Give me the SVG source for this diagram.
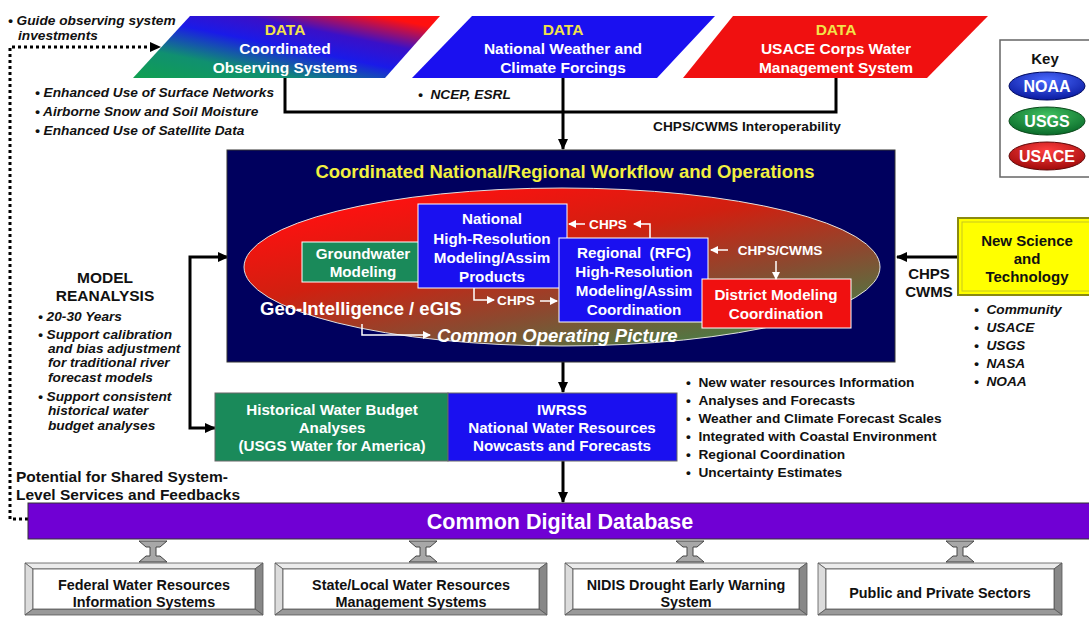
<svg xmlns="http://www.w3.org/2000/svg" width="1089" height="618" viewBox="0 0 1089 618">
<defs>
<style>
text{font-family:"Liberation Sans",Arial,sans-serif;font-weight:bold}
.data{fill:#f2e24a;font-size:15.5px;text-anchor:middle}
.wt{fill:#fff;font-size:15.5px;text-anchor:middle}
.wm{fill:#fff;font-size:15.2px;text-anchor:middle}
.blk{fill:#111;font-size:13.7px}
.it{font-style:italic}
.bx{fill:#111;font-size:14.4px;text-anchor:middle}
.ch{fill:#fff;font-size:13.6px;text-anchor:middle}
.conn{fill:none;stroke:#000;stroke-width:3}
.wconn{fill:none;stroke:#fff;stroke-width:1.5}
.box{stroke:#fff;stroke-width:1}
.bev{stroke:#555;stroke-width:0.8}
</style>
<marker id="ah" markerUnits="userSpaceOnUse" markerWidth="11" markerHeight="10" refX="10" refY="5" orient="auto"><path d="M0,0 L11,5 L0,10 z" fill="#000"/></marker>
<marker id="wh" markerUnits="userSpaceOnUse" markerWidth="8" markerHeight="8" refX="7" refY="4" orient="auto"><path d="M0,0 L8,4 L0,8 z" fill="#fff"/></marker>
<linearGradient id="g1" x1="0" y1="1" x2="1" y2="0"><stop offset="0" stop-color="#10a050"/><stop offset="0.25" stop-color="#109070"/><stop offset="0.5" stop-color="#1a1ae8"/><stop offset="0.68" stop-color="#3a10c8"/><stop offset="0.9" stop-color="#ff1010"/></linearGradient>
<linearGradient id="eg" x1="0.15" y1="0.1" x2="0.85" y2="1"><stop offset="0" stop-color="#ff1010"/><stop offset="0.35" stop-color="#d02010"/><stop offset="0.65" stop-color="#8a4a30"/><stop offset="1" stop-color="#3a8a4a"/></linearGradient>
<radialGradient id="kb" cx="0.5" cy="0.3" r="0.7"><stop offset="0" stop-color="#4a6aff"/><stop offset="1" stop-color="#0a1aa0"/></radialGradient>
<radialGradient id="kg" cx="0.5" cy="0.3" r="0.7"><stop offset="0" stop-color="#40c060"/><stop offset="1" stop-color="#0a6a2a"/></radialGradient>
<radialGradient id="kr" cx="0.5" cy="0.3" r="0.7"><stop offset="0" stop-color="#ff4040"/><stop offset="1" stop-color="#a00a0a"/></radialGradient>
</defs>
<rect width="1089" height="618" fill="#fff"/>

<g id="connectors">
<path class="conn" d="M285 78 V112 H836 V78"/>
<path class="conn" d="M563 78 V149" marker-end="url(#ah)"/>
<path class="conn" d="M563 362 V392" marker-end="url(#ah)"/>
<path class="conn" d="M563 461 V502" marker-end="url(#ah)"/>
<path class="conn" d="M958 257 H897" marker-end="url(#ah)"/>
<path class="conn" d="M190 340 V257 H228" marker-end="url(#ah)"/>
<path class="conn" d="M190 340 V428 H215" marker-end="url(#ah)"/>
<path fill="none" stroke="#000" stroke-width="3" stroke-dasharray="3 3" d="M28 519 H10 V47 H152"/>
<path d="M150 42 L161 47 L150 52 z" fill="#000"/>
</g>

<g id="data-observing">
<polygon points="190,16 440,16 385,78 133,78" fill="url(#g1)"/>
<text class="data" x="285" y="35">DATA</text>
<text class="wt" x="285" y="54">Coordinated</text>
<text class="wt" x="285" y="73">Observing Systems</text>
</g>
<g id="data-weather">
<polygon points="472,16 715,16 657,78 412,78" fill="#1a10f0"/>
<text class="data" x="563" y="35">DATA</text>
<text class="wt" x="563" y="54">National Weather and</text>
<text class="wt" x="563" y="73">Climate Forcings</text>
</g>
<g id="data-usace">
<polygon points="733,16 988,16 927,78 683,78" fill="#f01010"/>
<text class="data" x="836" y="35">DATA</text>
<text class="wt" x="836" y="54">USACE Corps Water</text>
<text class="wt" x="836" y="73">Management System</text>
</g>

<g id="notes-top">
<text class="blk it" x="8" y="25">• Guide observing system</text>
<text class="blk it" x="18" y="40">investments</text>
<text class="blk it" x="35" y="97">• Enhanced Use of Surface Networks</text>
<text class="blk it" x="35" y="116">• Airborne Snow and Soil Moisture</text>
<text class="blk it" x="35" y="135">• Enhanced Use of Satellite Data</text>
<text class="blk it" x="418" y="99">•&#160;&#160;NCEP, ESRL</text>
<text class="blk" x="653" y="131">CHPS/CWMS Interoperability</text>
</g>

<g id="key">
<rect x="1000" y="40" width="95" height="137" fill="#fff" stroke="#666" stroke-width="1.5"/>
<text x="1045" y="64" font-size="15" fill="#111" text-anchor="middle">Key</text>
<ellipse cx="1047" cy="86" rx="38" ry="14" fill="url(#kb)" stroke="#000a60"/>
<text x="1047" y="92" font-size="16" fill="#fff" text-anchor="middle">NOAA</text>
<ellipse cx="1047" cy="121" rx="38" ry="14" fill="url(#kg)" stroke="#0a4a1a"/>
<text x="1047" y="127" font-size="16" fill="#fff" text-anchor="middle">USGS</text>
<ellipse cx="1047" cy="156" rx="38" ry="14" fill="url(#kr)" stroke="#600a0a"/>
<text x="1047" y="162" font-size="16" fill="#fff" text-anchor="middle">USACE</text>
</g>

<g id="workflow">
<rect x="227" y="150" width="668" height="212" fill="#00005e" stroke="#333" stroke-width="1"/>
<text x="565" y="178" font-size="18.5" fill="#f2f040" text-anchor="middle">Coordinated National/Regional Workflow and Operations</text>
<ellipse cx="562" cy="267" rx="318" ry="79" fill="url(#eg)" stroke="#e0e0e0" stroke-width="1"/>
</g>

<g id="groundwater">
<rect class="box" x="302" y="242" width="122" height="40" fill="#1a8a5a"/>
<text class="wm" x="363" y="259">Groundwater</text>
<text class="wm" x="363" y="277">Modeling</text>
</g>
<g id="national-hr">
<rect class="box" x="418" y="204" width="149" height="84" fill="#1a10f0"/>
<text class="wm" x="492" y="224">National</text>
<text class="wm" x="492" y="244">High-Resolution</text>
<text class="wm" x="492" y="263">Modeling/Assim</text>
<text class="wm" x="492" y="282">Products</text>
</g>
<g id="regional-rfc">
<rect class="box" x="559" y="238" width="149" height="84" fill="#1a10f0"/>
<text class="wm" x="634" y="258">Regional&#160; (RFC)</text>
<text class="wm" x="634" y="277">High-Resolution</text>
<text class="wm" x="634" y="296">Modeling/Assim</text>
<text class="wm" x="634" y="315">Coordination</text>
</g>
<g id="district">
<rect class="box" x="702" y="279" width="149" height="49" fill="#f01010"/>
<text class="wm" x="776" y="300">District Modeling</text>
<text class="wm" x="776" y="319">Coordination</text>
</g>

<g id="inner-connectors">
<path class="wconn" d="M650 238 V224 H634" marker-end="url(#wh)"/>
<path class="wconn" d="M585 224 H569" marker-end="url(#wh)"/>
<text class="ch" x="608" y="229">CHPS</text>
<path class="wconn" d="M728 250 H711" marker-end="url(#wh)"/>
<text class="ch" x="780" y="255">CHPS/CWMS</text>
<path class="wconn" d="M776 261 V279" marker-end="url(#wh)"/>
<path class="wconn" d="M474 288 V300 H494" marker-end="url(#wh)"/>
<text class="ch" x="516" y="305">CHPS</text>
<path class="wconn" d="M540 301 H557" marker-end="url(#wh)"/>
<path class="wconn" d="M362 324 V335 H430" marker-end="url(#wh)"/>
<text x="260" y="315" font-size="18.5" fill="#fff">Geo-Intelligence / eGIS</text>
<text x="437" y="342" font-size="18.5" fill="#fff" font-style="italic">Common Operating Picture</text>
</g>

<g id="new-science">
<rect x="958" y="218" width="136" height="77" fill="#ffff00" stroke="#8a8a10" stroke-width="2"/>
<rect x="962" y="222" width="128" height="69" fill="none" stroke="#c8c820" stroke-width="1"/>
<text x="1027" y="246" font-size="15" fill="#111" text-anchor="middle">New Science</text>
<text x="1027" y="264" font-size="15" fill="#111" text-anchor="middle">and</text>
<text x="1027" y="282" font-size="15" fill="#111" text-anchor="middle">Technology</text>
<text x="929" y="279" font-size="15" fill="#111" text-anchor="middle">CHPS</text>
<text x="929" y="297" font-size="15" fill="#111" text-anchor="middle">CWMS</text>
<text class="blk it" x="974" y="314">•&#160;&#160;Community</text>
<text class="blk it" x="974" y="332">•&#160;&#160;USACE</text>
<text class="blk it" x="974" y="350">•&#160;&#160;USGS</text>
<text class="blk it" x="974" y="368">•&#160;&#160;NASA</text>
<text class="blk it" x="974" y="386">•&#160;&#160;NOAA</text>
</g>

<g id="model-reanalysis">
<text x="105" y="283" font-size="15.5" fill="#111" text-anchor="middle">MODEL</text>
<text x="105" y="301" font-size="15.5" fill="#111" text-anchor="middle">REANALYSIS</text>
<text class="blk it" x="38" y="321">• 20-30 Years</text>
<text class="blk it" x="38" y="339">• Support calibration</text>
<text class="blk it" x="48" y="353">and bias adjustment</text>
<text class="blk it" x="48" y="367">for traditional river</text>
<text class="blk it" x="48" y="382">forecast models</text>
<text class="blk it" x="38" y="401">• Support consistent</text>
<text class="blk it" x="48" y="415">historical water</text>
<text class="blk it" x="48" y="430">budget analyses</text>
</g>

<g id="historical">
<rect x="215" y="393" width="233" height="68" fill="#1a8a5a" stroke="#666" stroke-width="1"/>
<text class="wm" x="332" y="415">Historical Water Budget</text>
<text class="wm" x="332" y="433">Analyses</text>
<text class="wm" x="332" y="451">(USGS Water for America)</text>
</g>
<g id="iwrss">
<rect x="448" y="393" width="229" height="68" fill="#1a10f0" stroke="#666" stroke-width="1"/>
<text class="wm" x="562" y="415">IWRSS</text>
<text class="wm" x="562" y="433">National Water Resources</text>
<text class="wm" x="562" y="451">Nowcasts and Forecasts</text>
</g>

<g id="iwrss-notes">
<text class="blk" x="686" y="387">•&#160;&#160;New water resources Information</text>
<text class="blk" x="686" y="405">•&#160;&#160;Analyses and Forecasts</text>
<text class="blk" x="686" y="423">•&#160;&#160;Weather and Climate Forecast Scales</text>
<text class="blk" x="686" y="441">•&#160;&#160;Integrated with Coastal Environment</text>
<text class="blk" x="686" y="459">•&#160;&#160;Regional Coordination</text>
<text class="blk" x="686" y="477">•&#160;&#160;Uncertainty Estimates</text>
</g>

<g id="potential">
<text x="16" y="482" font-size="15.5" fill="#111">Potential for Shared System-</text>
<text x="16" y="500" font-size="15.5" fill="#111">Level Services and Feedbacks</text>
</g>

<g id="database">
<rect x="28" y="503" width="1066" height="36" fill="#7000d4" stroke="#333" stroke-width="1"/>
<text x="560" y="529" font-size="21.5" fill="#fff" text-anchor="middle">Common Digital Database</text>
</g>

<g id="db-links" fill="#a8a8a8" stroke="#444" stroke-width="1">
<polygon points="139,541 167,541 160,547 156,547 156,556 160,556 167,562 139,562 146,556 150,556 150,547 146,547"/>
<polygon points="409,541 437,541 430,547 426,547 426,556 430,556 437,562 409,562 416,556 420,556 420,547 416,547"/>
<polygon points="676,541 704,541 697,547 693,547 693,556 697,556 704,562 676,562 683,556 687,556 687,547 683,547"/>
<polygon points="946,541 974,541 967,547 963,547 963,556 967,556 974,562 946,562 953,556 957,556 957,547 953,547"/>
</g>

<g id="federal">
<polygon class="bev" points="25,563 263,563 255,569 33,569" fill="#ececec"/>
<polygon class="bev" points="25,563 33,569 33,609 25,615" fill="#dcdcdc"/>
<polygon class="bev" points="263,563 263,615 255,609 255,569" fill="#888"/>
<polygon class="bev" points="25,615 33,609 255,609 263,615" fill="#999"/>
<rect class="bev" x="33" y="569" width="222" height="40" fill="#fff"/>
<text class="bx" x="144" y="590">Federal Water Resources</text>
<text class="bx" x="144" y="607">Information Systems</text>
</g>
<g id="state-local">
<polygon class="bev" points="275,563 547,563 539,569 283,569" fill="#ececec"/>
<polygon class="bev" points="275,563 283,569 283,609 275,615" fill="#dcdcdc"/>
<polygon class="bev" points="547,563 547,615 539,609 539,569" fill="#888"/>
<polygon class="bev" points="275,615 283,609 539,609 547,615" fill="#999"/>
<rect class="bev" x="283" y="569" width="256" height="40" fill="#fff"/>
<text class="bx" x="411" y="590">State/Local Water Resources</text>
<text class="bx" x="411" y="607">Management Systems</text>
</g>
<g id="nidis">
<polygon class="bev" points="565,563 807,563 799,569 573,569" fill="#ececec"/>
<polygon class="bev" points="565,563 573,569 573,609 565,615" fill="#dcdcdc"/>
<polygon class="bev" points="807,563 807,615 799,609 799,569" fill="#888"/>
<polygon class="bev" points="565,615 573,609 799,609 807,615" fill="#999"/>
<rect class="bev" x="573" y="569" width="226" height="40" fill="#fff"/>
<text class="bx" x="686" y="590">NIDIS Drought Early Warning</text>
<text class="bx" x="686" y="607">System</text>
</g>
<g id="public-private">
<polygon class="bev" points="818,563 1062,563 1054,569 826,569" fill="#ececec"/>
<polygon class="bev" points="818,563 826,569 826,609 818,615" fill="#dcdcdc"/>
<polygon class="bev" points="1062,563 1062,615 1054,609 1054,569" fill="#888"/>
<polygon class="bev" points="818,615 826,609 1054,609 1062,615" fill="#999"/>
<rect class="bev" x="826" y="569" width="228" height="40" fill="#fff"/>
<text class="bx" x="940" y="598">Public and Private Sectors</text>
</g>
</svg>
